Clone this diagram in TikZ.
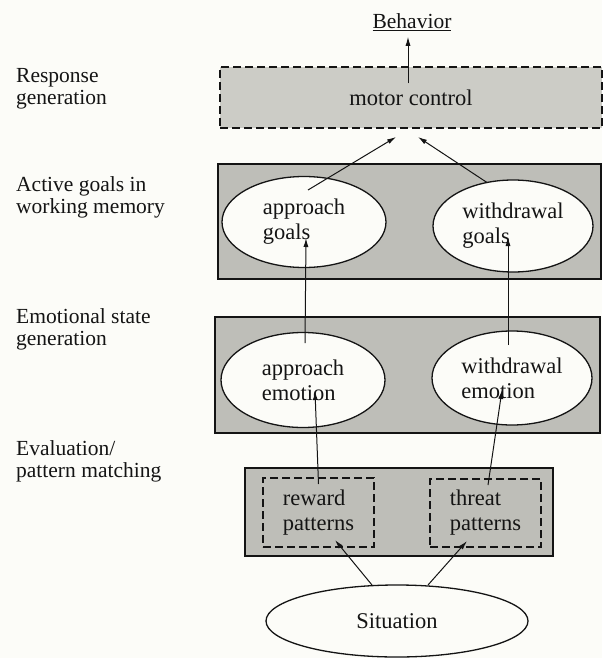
\documentclass[tikz,border=0pt]{standalone}
\usepackage{fontspec}
\setmainfont{Liberation Serif}
\usetikzlibrary{shapes.geometric,arrows.meta}
\definecolor{bg}{RGB}{252,252,248}
\definecolor{boxgray}{RGB}{190,190,184}
\definecolor{boxlight}{RGB}{204,204,198}
\definecolor{ink}{RGB}{20,20,20}
\begin{document}
\begin{tikzpicture}[x=1pt,y=-1pt,
  every node/.style={text=ink},
  graybox/.style={draw=ink, line width=1.4pt, fill=boxgray, inner sep=0pt,
    font=\fontsize{22.5}{25}\selectfont},
  dashbox/.style={dash pattern=on 8pt off 4pt},
  oval/.style={ellipse, draw=ink, line width=1.3pt, fill=bg, inner sep=0pt,
    align=left, font=\fontsize{22.5}{25}\selectfont},
  patbox/.style={draw=ink, line width=1.3pt, dash pattern=on 8pt off 4pt, inner sep=0pt,
    align=left, font=\fontsize{22.5}{25}\selectfont},
  lbl/.style={anchor=west, align=left, inner sep=0pt, font=\fontsize{21.5}{22}\selectfont},
  arr/.style={draw=ink, line width=1pt, -{Latex[length=9pt,width=5pt]}}]
\fill[bg] (0,0) rectangle (602,658);
\useasboundingbox (0,0) rectangle (602,658);

% left labels
\node[lbl] (l1) at (16,89) {Response\\generation};
\node[lbl] (l2) at (16,197.5) {Active goals in\\working memory};
\node[lbl] (l3) at (16,329) {Emotional state\\generation};
\node[lbl] (l4) at (16,461) {Evaluation/\\pattern matching};

% behaviour
\node[inner sep=0pt, font=\fontsize{21.5}{22}\selectfont] (beh) at (412,22) {\underline{Behavior}};

% boxes
\node[graybox, dashbox, fill=boxlight, minimum width=382pt, minimum height=61pt] (mc) at (411,97.5) {motor control};
\node[graybox, minimum width=383pt, minimum height=115pt] (gb) at (409.5,221.5) {};
\node[graybox, minimum width=385pt, minimum height=116pt] (eb) at (407.5,375) {};
\node[graybox, minimum width=308pt, minimum height=88pt] (pb) at (399,512) {};

% ellipses
\node[oval, minimum width=164pt, minimum height=91pt] (ag) at (304,222) {approach\\goals};
\node[oval, minimum width=160pt, minimum height=92pt] (wg) at (513,226) {withdrawal\\goals};
\node[oval, minimum width=164pt, minimum height=95pt] (ae) at (303,380) {approach\\emotion};
\node[oval, minimum width=160pt, minimum height=94pt] (we) at (512,378) {withdrawal\\emotion};

% pattern boxes
\node[patbox, minimum width=111pt, minimum height=69pt] (rp) at (318.5,512.5) {reward\\patterns};
\node[patbox, minimum width=111pt, minimum height=68pt] (tp) at (485.5,513) {threat\\patterns};

% situation
\node[oval, minimum width=262pt, minimum height=72pt] (sit) at (397,621) {Situation};

% arrows
\draw[arr] ([xshift=-3pt,yshift=-17pt]mc.north) -- ([xshift=-4pt,yshift=-6pt]beh.south);
\draw[arr] ([xshift=4pt,yshift=32pt]ag.center) -- ([xshift=-15pt,yshift=-39.5pt]mc.center);
\draw[arr] ([xshift=-26pt,yshift=43.5pt]wg.center) -- ([xshift=7pt,yshift=-39.5pt]mc.center);
\draw[arr] ([xshift=2pt,yshift=37pt]ae.center) -- ([xshift=2pt,yshift=-16pt]ag.center);
\draw[arr] ([xshift=-4pt,yshift=33pt]we.center) -- ([xshift=-5pt,yshift=-11pt]wg.center);
\draw[arr] ([xshift=0pt,yshift=28.5pt]rp.center) -- ([xshift=12pt,yshift=-11pt]ae.center);
\draw[arr] ([xshift=2.5pt,yshift=28pt]tp.center) -- ([xshift=-10pt,yshift=-12pt]we.center);
\draw[arr] ([xshift=-25pt,yshift=36pt]sit.center) -- ([xshift=16.5pt,yshift=-27.5pt]rp.center);
\draw[arr] ([xshift=31pt,yshift=36pt]sit.center) -- ([xshift=-18.5pt,yshift=-28pt]tp.center);
\end{tikzpicture}
\end{document}
